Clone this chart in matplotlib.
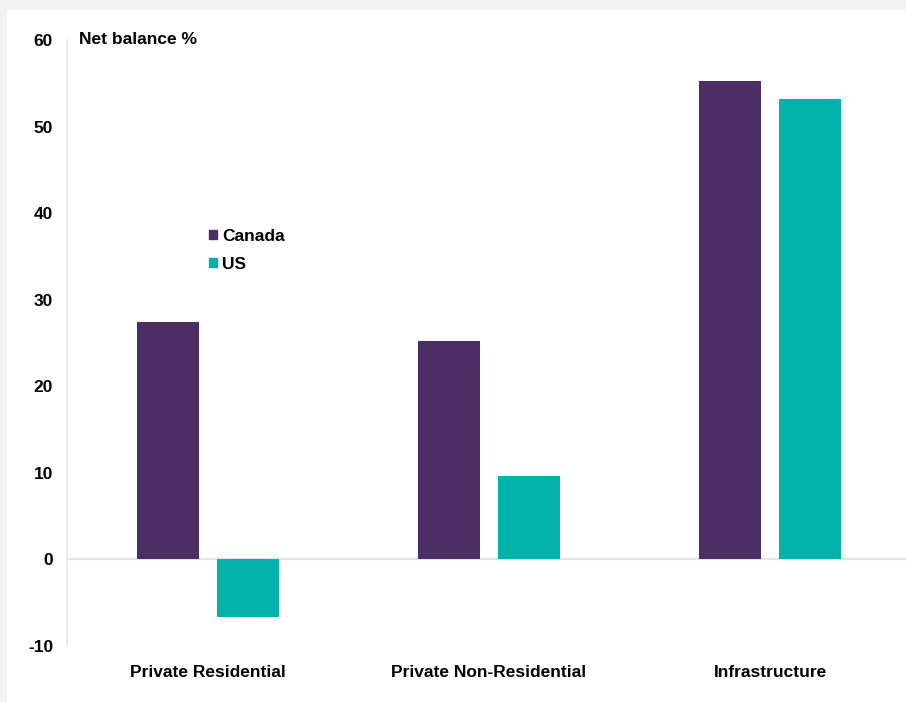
import numpy as np
import matplotlib.pyplot as plt
from matplotlib.patches import Patch, Rectangle

plt.rcParams['font.family'] = ['Liberation Sans', 'DejaVu Sans']

categories = ['Private Residential', 'Private Non-Residential', 'Infrastructure']
canada = [27.4, 25.2, 55.3]
us = [-6.6, 9.6, 53.2]
yticks = [-10, 0, 10, 20, 30, 40, 50, 60]

purple = '#4b2e63'
teal = '#00b2a9'

W, H = 906, 702
fig = plt.figure(figsize=(W / 100, H / 100), dpi=100, facecolor='#f3f3f3')
# white panel behind the chart
fig.patches.append(Rectangle((7 / W, 0), 1, 1 - 10 / H,
                             transform=fig.transFigure, facecolor='white',
                             edgecolor='none', zorder=-10))

ax = fig.add_axes([67 / W, 56 / H, (W - 67) / W, 606 / H])
ax.set_facecolor('none')

x = np.arange(len(categories))
bw = 0.22
off = 0.142
ax.bar(x - off, canada, bw, color=purple, zorder=3)
ax.bar(x + off, us, bw, color=teal, zorder=3)

ax.set_xlim(-0.502, 2.484)
ax.set_ylim(-10, 60)
ax.axhline(0, color='#e3e3e3', lw=1.6, zorder=2)

for s in ['top', 'right', 'bottom']:
    ax.spines[s].set_visible(False)
ax.spines['left'].set_color('#e6e6e6')
ax.spines['left'].set_linewidth(1.2)

ax.set_yticks(yticks)
ax.set_yticklabels([str(v) for v in yticks], fontsize=12.5, fontweight='bold')
ax.tick_params(axis='y', length=0, pad=10)
ax.set_xticks(x)
ax.set_xticklabels(categories, fontsize=12.5, fontweight='bold')
ax.tick_params(axis='x', length=0, pad=14)

ax.text(0.014, 1.0, 'Net balance %', transform=ax.transAxes, fontsize=12.5,
        fontweight='bold', va='center', ha='left')

handles = [Patch(color=purple, label='Canada'), Patch(color=teal, label='US')]
ax.legend(handles=handles, loc='upper left', bbox_to_anchor=(0.161, 0.700),
          frameon=False, prop={'weight': 'bold', 'size': 12.5},
          handlelength=0.47, handleheight=0.47, handletextpad=0.3,
          labelspacing=0.74, borderaxespad=0)

fig.savefig('out.png', dpi=100, facecolor=fig.get_facecolor())
